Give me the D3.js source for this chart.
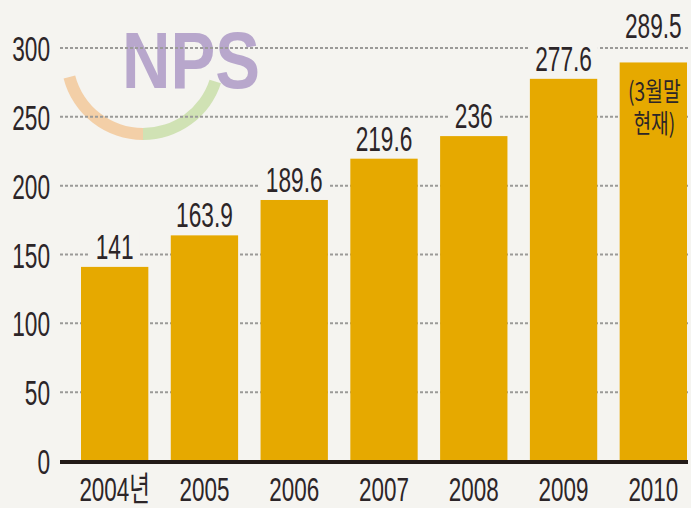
<!DOCTYPE html>
<html>
<head>
<meta charset="utf-8">
<title>NPS chart</title>
<script src="https://cdn.jsdelivr.net/npm/d3@7/dist/d3.min.js"></script>
<style>
  body { margin: 0; background: #f5f4f0; }
  text { font-family: "Liberation Sans", "Noto Sans CJK KR", sans-serif; fill: #2c2528; }
</style>
</head>
<body>
<svg id="chart" width="691" height="508"></svg>
<script>
  // data
  var years = ['2004', '2005', '2006', '2007', '2008', '2009', '2010'];
  var yearLabels = ['2004년', '2005', '2006', '2007', '2008', '2009', '2010'];
  var values = [141, 163.9, 189.6, 219.6, 236, 277.6, 289.5];
  var valueLabels = ['141', '163.9', '189.6', '219.6', '236', '277.6', '289.5'];
  var yTicks = [0, 50, 100, 150, 200, 250, 300];
  var note = ['(3월말', '현재)'];

  var svg = d3.select('#chart'),
    width = +svg.attr('width'),
    height = +svg.attr('height');

  var bg = '#f5f4f0', barColor = '#e6a900';
  var sx = 0.63;  // condensed look of the digits

  svg.append('rect').attr('width', width).attr('height', height).attr('fill', bg);

  var y = d3.scaleLinear().domain([0, 300]).range([461, 48]);
  var x = d3.scaleBand().domain(years).range([81, 687]).paddingInner(0.25).paddingOuter(0);

  // logo (faint, behind everything)
  var logo = svg.append('g').attr('opacity', 0.8);
  var arc = d3.arc().innerRadius(70).outerRadius(82);
  logo.append('path')
    .attr('transform', 'translate(143,58)')
    .attr('d', arc({ startAngle: Math.PI, endAngle: Math.PI * 1.42 }))
    .attr('fill', '#f3c796');
  logo.append('path')
    .attr('transform', 'translate(143,58)')
    .attr('d', arc({ startAngle: Math.PI * 0.6, endAngle: Math.PI }))
    .attr('fill', '#c8dea6');
  logo.append('text')
    .attr('x', 122).attr('y', 88)
    .attr('textLength', 138).attr('lengthAdjust', 'spacingAndGlyphs')
    .style('font-size', '80px').style('font-weight', 'bold')
    .style('fill', '#a995c4')
    .text('NPS');

  // dotted gridlines
  svg.selectAll('.grid')
    .data(yTicks.filter(d => d > 0))
    .enter()
    .append('line')
    .attr('class', 'grid')
    .attr('x1', 60).attr('x2', 688)
    .attr('y1', d => y(d)).attr('y2', d => y(d))
    .attr('stroke', '#9b9a98')
    .attr('stroke-width', 2)
    .attr('stroke-dasharray', '3,2');

  // bars
  svg.selectAll('.bar')
    .data(values)
    .enter()
    .append('rect')
    .attr('class', 'bar')
    .attr('x', (d, i) => x(years[i]))
    .attr('y', d => y(d))
    .attr('width', x.bandwidth())
    .attr('height', d => y(0) - y(d))
    .attr('fill', barColor);

  // baseline
  svg.append('line')
    .attr('x1', 60).attr('x2', 688)
    .attr('y1', y(0) + 1).attr('y2', y(0) + 1)
    .attr('stroke', '#221a17')
    .attr('stroke-width', 4);

  // y tick labels
  svg.selectAll('.ytick')
    .data(yTicks)
    .enter()
    .append('text')
    .attr('class', 'ytick')
    .attr('transform', d => 'translate(50,' + (y(d) + 13) + ') scale(' + sx + ',1)')
    .attr('text-anchor', 'end')
    .style('font-size', '36px')
    .text(d => d);

  // x labels
  svg.selectAll('.xlab')
    .data(yearLabels)
    .enter()
    .append('text')
    .attr('class', 'xlab')
    .attr('transform', (d, i) => 'translate(' + (x(years[i]) + x.bandwidth() / 2) + ',501) scale(0.66,1)')
    .attr('text-anchor', 'middle')
    .style('font-size', '34px')
    .text(d => d);

  // value labels, with a knock-out box so the gridlines stop around them
  var last = values.length - 1;
  var labelY = (d, i) => i === last ? 38 : y(d) - 8;
  var labels = svg.selectAll('.vlab')
    .data(values)
    .enter()
    .append('g')
    .attr('class', 'vlab')
    .attr('transform', (d, i) => 'translate(' + (x(years[i]) + x.bandwidth() / 2) + ',' + labelY(d, i) + ')');

  labels.append('text')
    .attr('transform', 'scale(' + sx + ',1)')
    .attr('text-anchor', 'middle')
    .style('font-size', '36px')
    .text((d, i) => valueLabels[i]);

  labels.each(function () {
    var g = d3.select(this);
    var bb = g.select('text').node().getBBox();
    g.insert('rect', 'text')
      .attr('x', bb.x * sx - 6).attr('y', bb.y + 4)
      .attr('width', bb.width * sx + 12).attr('height', bb.height - 6)
      .attr('fill', bg);
  });

  // note inside the 2010 bar
  var cx = x(years[last]) + x.bandwidth() / 2;
  svg.selectAll('.note')
    .data(note)
    .enter()
    .append('text')
    .attr('class', 'note')
    .attr('transform', (d, i) => 'translate(' + (cx + 1) + ',' + (101 + i * 32) + ') scale(0.74,1)')
    .attr('text-anchor', 'middle')
    .style('font-family', '"Noto Sans CJK KR", sans-serif')
    .style('font-size', '26px')
    .text(d => d);
</script>
</body>
</html>
